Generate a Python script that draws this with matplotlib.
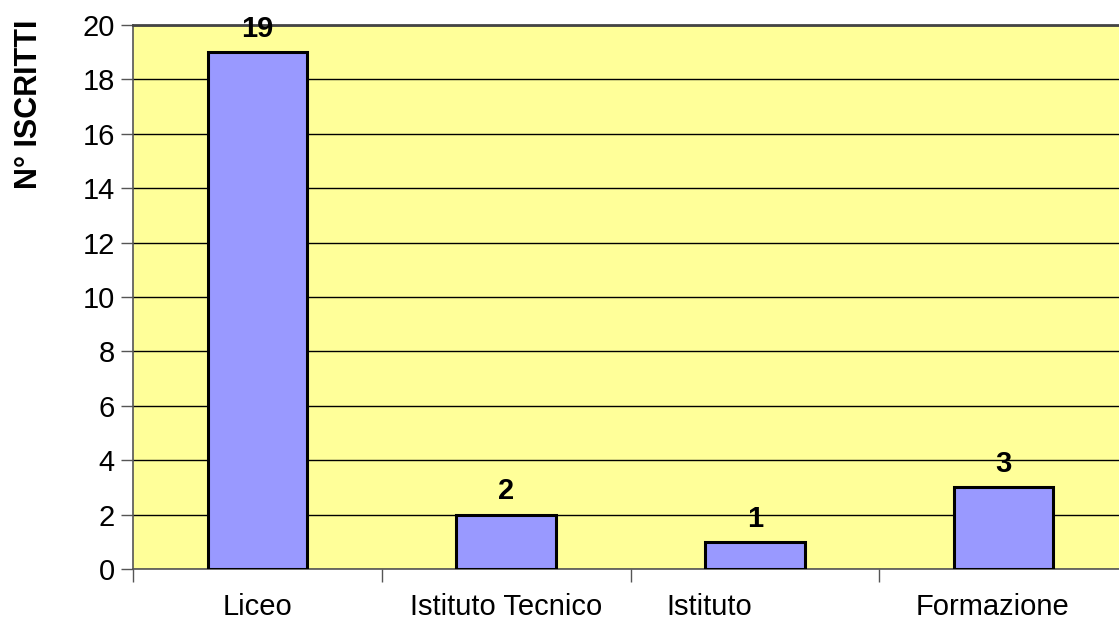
import matplotlib
matplotlib.use("Agg")
import matplotlib.pyplot as plt
import matplotlib.transforms as mtransforms
import numpy as np

categories = ["Liceo", "Istituto Tecnico", "Istituto", "Formazione"]
iscritti = [19, 2, 1, 3]
y_ticks = [0, 2, 4, 6, 8, 10, 12, 14, 16, 18, 20]

plt.rcParams['font.family'] = ['Liberation Sans', 'DejaVu Sans']

fig = plt.figure(figsize=(11.19, 6.19), dpi=100)
ax = fig.add_axes([133 / 1119, 50 / 619, 995 / 1119, 544 / 619])
ax.set_facecolor('#FFFF99')

x = np.arange(len(categories))
bars = ax.bar(x, iscritti, width=0.4, color='#9999FF', edgecolor='black', linewidth=2.2, zorder=3)

for xi, v in zip(x, iscritti):
    ax.annotate(str(v), (xi, v), xytext=(0, 11), textcoords='offset points',
                ha='center', va='baseline', fontsize=21, fontweight='bold', zorder=4)

ax.set_xlim(-0.5, len(categories) - 0.5)
ax.set_ylim(0, 20)
ax.set_yticks(y_ticks)
ax.yaxis.grid(True, color='black', linewidth=1.0, zorder=1)
ax.set_axisbelow(True)

# category ticks sit between categories, labels at centres
ax.set_xticks(np.arange(len(categories) + 1) - 0.5)
ax.set_xticklabels([])
ax.set_xticks(x, minor=True)
ax.set_xticklabels(categories, minor=True, fontsize=21)
ax.tick_params(axis='x', which='minor', length=0, pad=17)
ax.tick_params(axis='x', which='major', length=9, width=1, color='#555555')
ax.tick_params(axis='y', length=9, width=1, color='#555555', labelsize=21, pad=4)

# shift some labels like in the original (trailing spaces in source labels)
shifts = {"Istituto": -46, "Formazione": -11}
for lab in ax.get_xticklabels(minor=True):
    dx = shifts.get(lab.get_text(), 0)
    if dx:
        lab.set_transform(lab.get_transform() + mtransforms.ScaledTranslation(dx / 100, 0, fig.dpi_scale_trans))

for side in ['left', 'bottom']:
    ax.spines[side].set_color('#555555')
    ax.spines[side].set_linewidth(1.2)
ax.spines['top'].set_color('#444444')
ax.spines['top'].set_linewidth(2)
ax.spines['right'].set_visible(False)

ax.set_ylabel("N° ISCRITTI", fontsize=22, fontweight='bold')
ax.yaxis.set_label_coords(-0.089, 0.855)

fig.savefig("out.png", dpi=100)
